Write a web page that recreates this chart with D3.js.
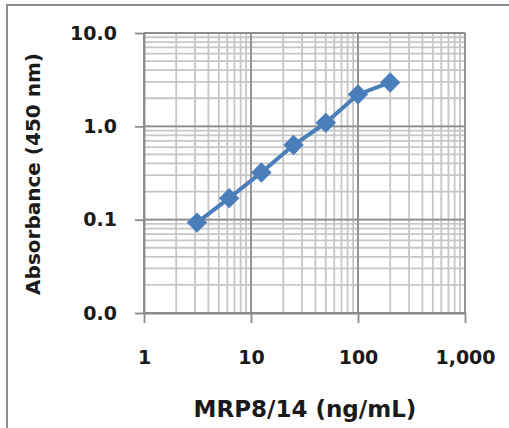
<!DOCTYPE html>
<html>
<head>
<meta charset="utf-8">
<script src="https://cdn.jsdelivr.net/npm/d3@7"></script>
<style>
  body { margin: 0; background: #fff; }
  svg text { font-family: "DejaVu Sans", sans-serif; font-weight: bold; fill: #1a1a1a; }
  .grid-minor line { stroke: #c6c6c6; stroke-width: 1.8; }
  .grid-major line { stroke: #8e8e8e; stroke-width: 1.8; }
  .axis path, .axis line { stroke: #8a8a8a; stroke-width: 1.8; }
</style>
</head>
<body>
<div id="chart"></div>
<script>
// standard curve: MRP8/14 concentration vs absorbance
var concentration = [3.125, 6.25, 12.5, 25, 50, 100, 200];
var absorbance = [0.093, 0.17, 0.32, 0.63, 1.09, 2.2, 2.95];

var xTickValues = [1, 10, 100, 1000];
var xTickLabels = ["1", "10", "100", "1,000"];
var yTickValues = [0.01, 0.1, 1, 10];
var yTickLabels = ["0.0", "0.1", "1.0", "10.0"];

var width = 509, height = 428;
var margin = { top: 33, right: 44, bottom: 115, left: 144 };

var svg = d3.select("#chart").append("svg")
    .attr("width", width)
    .attr("height", height);

// chart frame (runs past the right/bottom edge of the picture)
svg.append("rect")
    .attr("x", 7)
    .attr("y", 5)
    .attr("width", 600)
    .attr("height", 600)
    .attr("fill", "none")
    .attr("stroke", "#8c8c8c")
    .attr("stroke-width", 2);

var x = d3.scaleLog()
    .domain([xTickValues[0], xTickValues[xTickValues.length - 1]])
    .range([margin.left, width - margin.right]);

var y = d3.scaleLog()
    .domain([yTickValues[0], yTickValues[yTickValues.length - 1]])
    .range([height - margin.bottom, margin.top]);

// minor grid lines, every 1..9 within each decade
var minor = svg.append("g").attr("class", "grid-minor");
minor.selectAll("line.v")
    .data(x.ticks())
    .enter().append("line")
    .attr("class", "v")
    .attr("x1", function(d) { return x(d); })
    .attr("x2", function(d) { return x(d); })
    .attr("y1", y.range()[0])
    .attr("y2", y.range()[1]);
minor.selectAll("line.h")
    .data(y.ticks())
    .enter().append("line")
    .attr("class", "h")
    .attr("x1", x.range()[0])
    .attr("x2", x.range()[1])
    .attr("y1", function(d) { return y(d); })
    .attr("y2", function(d) { return y(d); });

// major grid lines at each decade
var major = svg.append("g").attr("class", "grid-major");
major.selectAll("line.v")
    .data(xTickValues)
    .enter().append("line")
    .attr("class", "v")
    .attr("x1", function(d) { return x(d); })
    .attr("x2", function(d) { return x(d); })
    .attr("y1", y.range()[0])
    .attr("y2", y.range()[1]);
major.selectAll("line.h")
    .data(yTickValues)
    .enter().append("line")
    .attr("class", "h")
    .attr("x1", x.range()[0])
    .attr("x2", x.range()[1])
    .attr("y1", function(d) { return y(d); })
    .attr("y2", function(d) { return y(d); });

// axes
svg.append("g")
    .attr("class", "axis")
    .attr("transform", "translate(0," + y.range()[0] + ")")
    .call(d3.axisBottom(x)
        .tickValues(xTickValues)
        .tickFormat(function(d, i) { return xTickLabels[i]; })
        .tickSize(10)
        .tickSizeOuter(0)
        .tickPadding(28));

svg.append("g")
    .attr("class", "axis")
    .attr("transform", "translate(" + x.range()[0] + ",0)")
    .call(d3.axisLeft(y)
        .tickValues(yTickValues)
        .tickFormat(function(d, i) { return yTickLabels[i]; })
        .tickSize(9)
        .tickSizeOuter(0)
        .tickPadding(18));

svg.selectAll(".axis text")
    .style("font-size", "19px")
    .style("font-family", "'DejaVu Sans', sans-serif")
    .style("font-weight", "bold")
    .attr("fill", "#1a1a1a");

// series line and diamond markers
var points = concentration.map(function(c, i) { return [c, absorbance[i]]; });

var line = d3.line()
    .x(function(d) { return x(d[0]); })
    .y(function(d) { return y(d[1]); });

svg.append("path")
    .datum(points)
    .attr("d", line)
    .attr("fill", "none")
    .attr("stroke", "#4a7ebb")
    .attr("stroke-width", 4);

svg.append("g")
    .selectAll("path")
    .data(points)
    .enter().append("path")
    .attr("d", d3.symbol().type(d3.symbolSquare).size(180))
    .attr("transform", function(d) {
        return "translate(" + x(d[0]) + "," + y(d[1]) + ") rotate(45)";
    })
    .attr("fill", "#4a7ebb")
    .attr("stroke", "#4a7ebb")
    .attr("stroke-width", 1);

// axis titles
svg.append("text")
    .attr("transform", "translate(40,174) rotate(-90)")
    .attr("text-anchor", "middle")
    .style("font-size", "20px")
    .text("Absorbance (450 nm)");

svg.append("text")
    .attr("x", 305)
    .attr("y", 417)
    .attr("text-anchor", "middle")
    .style("font-size", "23px")
    .text("MRP8/14 (ng/mL)");
</script>
</body>
</html>
